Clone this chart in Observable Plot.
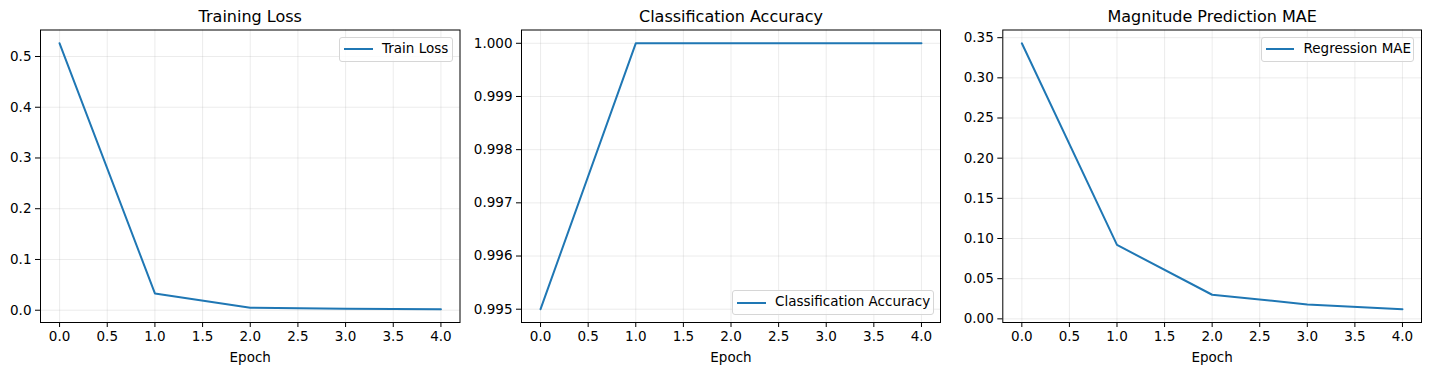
<!DOCTYPE html>
<html>
<head>
<meta charset="utf-8">
<script src="https://cdn.jsdelivr.net/npm/d3@7"></script>
<script src="https://cdn.jsdelivr.net/npm/@observablehq/plot@0.6"></script>
<style>
  html, body { margin: 0; padding: 0; background: #fff; }
  #root { position: relative; width: 1430px; height: 374px; font-family: "DejaVu Sans", sans-serif; overflow: hidden; }
  #root svg.plot { position: absolute; top: 0; }
  .legend { position: absolute; box-sizing: border-box; border: 1px solid #d6d6d6; border-radius: 3px; background: rgba(255,255,255,0.8); font-size: 13.5px; color: #000; }
  .legend .sample { position: absolute; height: 2px; background: #1f77b4; }
  .legend .lab { position: absolute; line-height: 1; white-space: nowrap; }
</style>
</head>
<body>
<div id="root"></div>
<script>
// ---- data ----
const epochs = [0, 1, 2, 3, 4];
const trainLoss = [0.526, 0.033, 0.005, 0.003, 0.002];
const classAccuracy = [0.995, 1.0, 1.0, 1.0, 1.0];
const regressionMAE = [0.343, 0.092, 0.030, 0.018, 0.012];

const titles = ["Training Loss", "Classification Accuracy", "Magnitude Prediction MAE"];
const seriesLabels = ["Train Loss", "Classification Accuracy", "Regression MAE"];
const xLabel = "Epoch";

const xTicks = [0, 0.5, 1, 1.5, 2, 2.5, 3, 3.5, 4];
const yTicksLoss = [0, 0.1, 0.2, 0.3, 0.4, 0.5];
const yTicksAcc = [0.995, 0.996, 0.997, 0.998, 0.999, 1.0];
const yTicksMAE = [0, 0.05, 0.10, 0.15, 0.20, 0.25, 0.30, 0.35];

// ---- layout ----
const panels = [
  {values: trainLoss, yTicks: yTicksLoss, fmt: ".1f", left: 0, width: 470, ml: 40, mr: 10.5,
   legend: {x: 339, y: 36.5, w: 113.5, h: 25, loc: "top"}},
  {values: classAccuracy, yTicks: yTicksAcc, fmt: ".3f", left: 470, width: 480, ml: 51, mr: 10,
   legend: {x: 732, y: 290, w: 201.5, h: 25, loc: "bottom"}},
  {values: regressionMAE, yTicks: yTicksMAE, fmt: ".2f", left: 950, width: 480, ml: 52.3, mr: 9,
   legend: {x: 1260.5, y: 36.5, w: 153.5, h: 25, loc: "top"}}
];

const root = document.getElementById("root");
const blue = "#1f77b4";

function padded(vals) {
  const [a, b] = d3.extent(vals);
  const p = (b - a) * 0.05;
  return [a - p, b + p];
}

panels.forEach((p, i) => {
  const data = epochs.map((e, j) => ({epoch: e, value: p.values[j]}));
  const xd = padded(epochs);
  const yd = padded(p.values);
  const chart = Plot.plot({
    width: p.width,
    height: 374,
    marginLeft: p.ml,
    marginRight: p.mr,
    marginTop: 29.5,
    marginBottom: 52,
    style: {fontFamily: "DejaVu Sans, sans-serif", fontSize: "13.5px", color: "#000", background: "transparent", overflow: "visible"},
    x: {domain: xd, ticks: xTicks},
    y: {domain: yd, ticks: p.yTicks},
    marks: [
      Plot.gridX(xTicks, {stroke: "#b0b0b0", strokeOpacity: 0.3, strokeWidth: 0.8}),
      Plot.gridY(p.yTicks, {stroke: "#b0b0b0", strokeOpacity: 0.3, strokeWidth: 0.8}),
      Plot.axisX({ticks: xTicks, tickFormat: d3.format(".1f"), tickSize: 5, tickPadding: 4, label: null, stroke: "#000", fill: "#000", fontSize: 13.5}),
      Plot.axisY({ticks: p.yTicks, tickFormat: d3.format(p.fmt), tickSize: 5, tickPadding: 4, label: null, stroke: "#000", fill: "#000", fontSize: 13.5}),
      Plot.line(data, {x: "epoch", y: "value", stroke: blue, strokeWidth: 2}),
      Plot.frame({stroke: "#000", strokeWidth: 1}),
      Plot.text([titles[i]], {frameAnchor: "top", dy: -13.5, lineAnchor: "middle", fontSize: 16, fill: "#000"}),
      Plot.text([xLabel], {frameAnchor: "bottom", dy: 35, lineAnchor: "middle", fontSize: 13.5, fill: "#000"})
    ]
  });
  chart.classList.add("plot");
  chart.style.left = p.left + "px";
  root.appendChild(chart);

  // legend box
  const L = p.legend;
  const box = document.createElement("div");
  box.className = "legend";
  box.style.left = L.x + "px";
  box.style.top = L.y + "px";
  box.style.width = L.w + "px";
  box.style.height = L.h + "px";
  const s = document.createElement("div");
  s.className = "sample";
  s.style.left = "4px";
  s.style.width = "28.5px";
  s.style.top = (L.h / 2 - 2) + "px";
  box.appendChild(s);
  const t = document.createElement("div");
  t.className = "lab";
  t.textContent = seriesLabels[i];
  t.style.left = "42px";
  t.style.top = (L.h / 2 - 8.5) + "px";
  box.appendChild(t);
  root.appendChild(box);
});
</script>
</body>
</html>
